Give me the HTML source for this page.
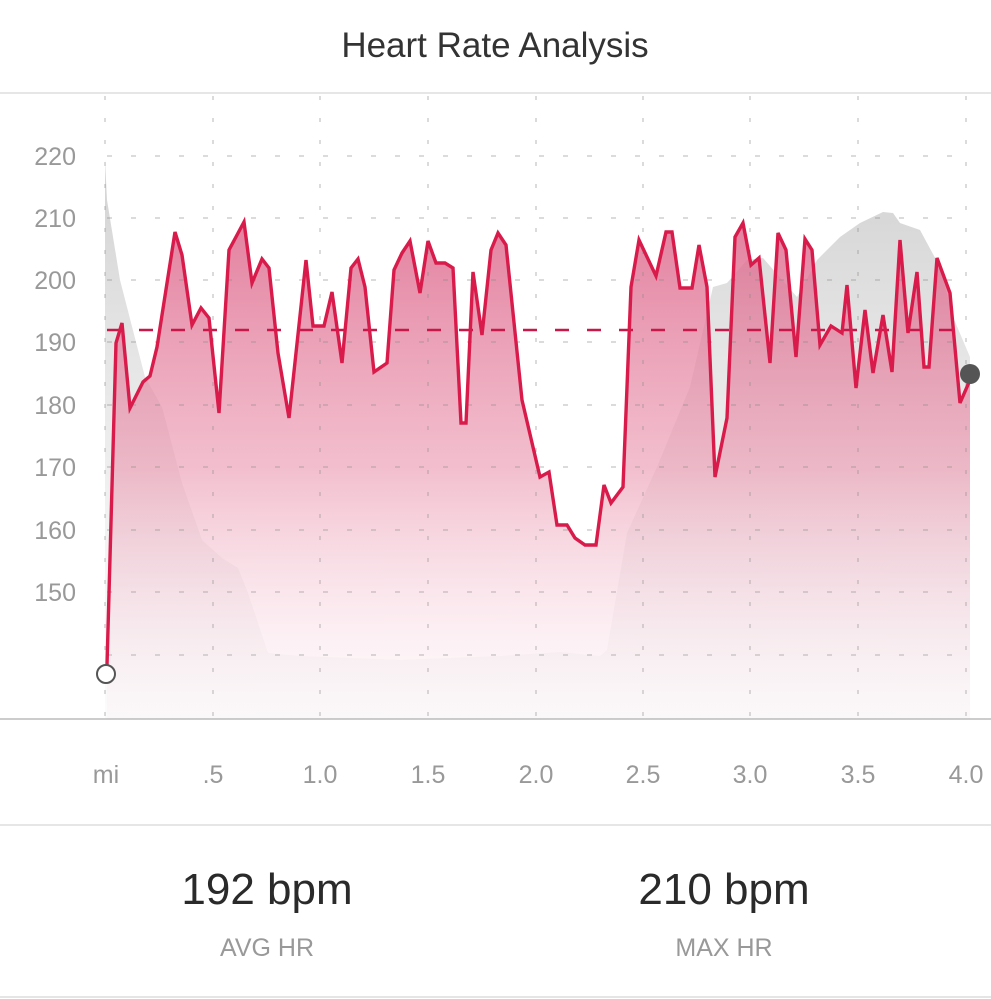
<!DOCTYPE html>
<html><head><meta charset="utf-8"><style>
html,body{margin:0;padding:0;background:#fff;}
svg{display:block;font-family:"Liberation Sans",sans-serif;}
</style></head><body>
<svg width="991" height="999" viewBox="0 0 991 999" xmlns="http://www.w3.org/2000/svg">
<defs>
<linearGradient id="pk" gradientUnits="userSpaceOnUse" x1="0" y1="220" x2="0" y2="719">
<stop offset="0" stop-color="#de6a8e" stop-opacity="0.85"/>
<stop offset="0.5" stop-color="#ea94ad" stop-opacity="0.6"/>
<stop offset="1" stop-color="#fbe8ee" stop-opacity="0.15"/>
</linearGradient>
<linearGradient id="gr" gradientUnits="userSpaceOnUse" x1="0" y1="200" x2="0" y2="719">
<stop offset="0" stop-color="#d6d6d6"/>
<stop offset="1" stop-color="#f2f2f2" stop-opacity="0.3"/>
</linearGradient>
</defs>
<rect width="991" height="999" fill="#fff"/>
<text x="495" y="57" text-anchor="middle" font-size="35" fill="#333">Heart Rate Analysis</text>
<line x1="0" y1="93" x2="991" y2="93" stroke="#ddd" stroke-width="1.5"/>
<path d="M105,719 L105,160 L107,200 L120,280 L145,377 L162,407 L182,483 L202,540 L222,558 L238,568 L248,593 L268,653 L300,656 L400,660 L500,656 L560,652 L600,656 L607,650 L627,533 L657,467 L690,387 L713,287 L727,283 L747,260 L763,258 L797,297 L817,260 L840,237 L860,223 L883,212 L893,213 L900,223 L920,230 L940,267 L953,317 L970,357 L970,719 Z" fill="url(#gr)"/>
<path id="hr" d="M107,665 L116,343 L122,323 L130,408 L143,382 L150,376 L157,347 L175,232 L182,255 L192,325 L201,308 L209,318 L219,413 L229,250 L237,235 L244,222 L252,283 L262,259 L269,268 L278,353 L289,418 L306,260 L313,326 L324,326 L332,292 L342,363 L351,268 L358,259 L365,287 L374,372 L387,363 L394,270 L402,253 L410,241 L420,293 L428,241 L436,263 L445,263 L453,268 L461,423 L466,423 L473,272 L482,335 L491,250 L498,233 L506,245 L522,400 L540,477 L549,472 L557,525 L567,525 L575,538 L585,545 L596,545 L604,485 L611,503 L623,487 L631,287 L639,240 L656,276 L666,232 L672,232 L680,288 L692,288 L699,245 L707,287 L715,477 L727,418 L735,237 L743,223 L751,265 L759,258 L770,363 L778,233 L786,250 L796,357 L805,239 L812,250 L820,345 L831,326 L842,333 L847,285 L856,388 L865,310 L873,373 L883,315 L892,372 L900,240 L908,333 L917,272 L924,367 L929,367 L937,258 L950,293 L960,403 L970,380" fill="none"/>
<path d="M107,719 L107,665 L116,343 L122,323 L130,408 L143,382 L150,376 L157,347 L175,232 L182,255 L192,325 L201,308 L209,318 L219,413 L229,250 L237,235 L244,222 L252,283 L262,259 L269,268 L278,353 L289,418 L306,260 L313,326 L324,326 L332,292 L342,363 L351,268 L358,259 L365,287 L374,372 L387,363 L394,270 L402,253 L410,241 L420,293 L428,241 L436,263 L445,263 L453,268 L461,423 L466,423 L473,272 L482,335 L491,250 L498,233 L506,245 L522,400 L540,477 L549,472 L557,525 L567,525 L575,538 L585,545 L596,545 L604,485 L611,503 L623,487 L631,287 L639,240 L656,276 L666,232 L672,232 L680,288 L692,288 L699,245 L707,287 L715,477 L727,418 L735,237 L743,223 L751,265 L759,258 L770,363 L778,233 L786,250 L796,357 L805,239 L812,250 L820,345 L831,326 L842,333 L847,285 L856,388 L865,310 L873,373 L883,315 L892,372 L900,240 L908,333 L917,272 L924,367 L929,367 L937,258 L950,293 L960,403 L970,380 L970,719 Z" fill="url(#pk)"/>
<g stroke="#888" stroke-width="1" stroke-dasharray="5,19" opacity="0.6">
<line x1="107" y1="156" x2="970" y2="156"/><line x1="107" y1="218" x2="970" y2="218"/>
<line x1="107" y1="280" x2="970" y2="280"/><line x1="107" y1="342" x2="970" y2="342"/>
<line x1="107" y1="405" x2="970" y2="405"/><line x1="107" y1="467" x2="970" y2="467"/>
<line x1="107" y1="530" x2="970" y2="530"/><line x1="107" y1="592" x2="970" y2="592"/>
<line x1="107" y1="655" x2="970" y2="655"/>
</g>
<g stroke="#888" stroke-width="1" stroke-dasharray="4,18" opacity="0.6">
<line x1="105" y1="96" x2="105" y2="719"/><line x1="213" y1="96" x2="213" y2="719"/>
<line x1="320" y1="96" x2="320" y2="719"/><line x1="428" y1="96" x2="428" y2="719"/>
<line x1="536" y1="96" x2="536" y2="719"/><line x1="643" y1="96" x2="643" y2="719"/>
<line x1="750" y1="96" x2="750" y2="719"/><line x1="858" y1="96" x2="858" y2="719"/>
<line x1="966" y1="96" x2="966" y2="719"/>
</g>
<line x1="0" y1="719" x2="991" y2="719" stroke="#bbb" stroke-width="1.5"/>
<line x1="107" y1="330" x2="970" y2="330" stroke="#c8184a" stroke-width="2.5" stroke-dasharray="14,18"/>
<use href="#hr" stroke="#d81b4a" stroke-width="3.4" stroke-linejoin="miter"/>
<circle cx="106" cy="674" r="9" fill="#fff" stroke="#555" stroke-width="2"/>
<circle cx="970" cy="374" r="10" fill="#555"/>
<g font-size="25" fill="#999" text-anchor="end">
<text x="76" y="165">220</text><text x="76" y="227">210</text><text x="76" y="289">200</text>
<text x="76" y="351">190</text><text x="76" y="414">180</text><text x="76" y="476">170</text>
<text x="76" y="539">160</text><text x="76" y="601">150</text>
</g>
<g font-size="25" fill="#999" text-anchor="middle">
<text x="106" y="783">mi</text><text x="213" y="783">.5</text><text x="320" y="783">1.0</text>
<text x="428" y="783">1.5</text><text x="536" y="783">2.0</text><text x="643" y="783">2.5</text>
<text x="750" y="783">3.0</text><text x="858" y="783">3.5</text><text x="966" y="783">4.0</text>
</g>
<line x1="0" y1="825" x2="991" y2="825" stroke="#ddd" stroke-width="1.5"/>
<g text-anchor="middle">
<text x="267" y="904" font-size="44" fill="#2a2a2a">192 bpm</text>
<text x="724" y="904" font-size="44" fill="#2a2a2a">210 bpm</text>
<text x="267" y="956" font-size="25" fill="#999">AVG HR</text>
<text x="724" y="956" font-size="25" fill="#999">MAX HR</text>
</g>
<line x1="0" y1="997" x2="991" y2="997" stroke="#e5e5e5" stroke-width="2"/>
</svg>
</body></html>
